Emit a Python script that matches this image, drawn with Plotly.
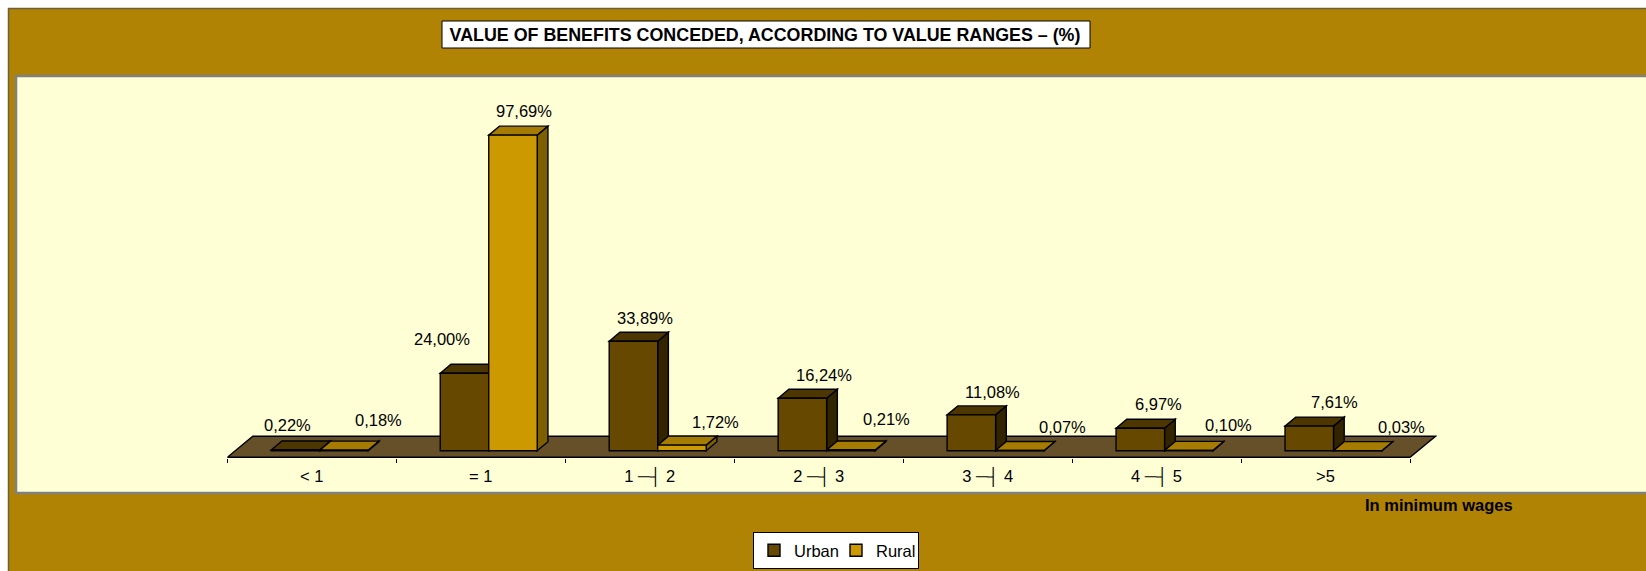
import plotly.graph_objects as go

categories = ["< 1", "= 1", "1 ─┤ 2", "2 ─┤ 3", "3 ─┤ 4", "4 ─┤ 5", ">5"]
urban = [0.22, 24.00, 33.89, 16.24, 11.08, 6.97, 7.61]
rural = [0.18, 97.69, 1.72, 0.21, 0.07, 0.10, 0.03]
urban_labels = ["0,22%", "24,00%", "33,89%", "16,24%", "11,08%", "6,97%", "7,61%"]
rural_labels = ["0,18%", "97,69%", "1,72%", "0,21%", "0,07%", "0,10%", "0,03%"]

# label nudges in px (x, up), as placed in the source chart
urban_nudge = [(-8.5, 25), (-22, 34), (12, 23), (21.5, 23), (21.5, 23), (18, 24), (25, 24)]
rural_nudge = [(34, 30), (11, 24), (33.5, 23), (36, 31), (43, 23.5), (40, 25), (44, 23.6)]

W, H = 1646, 571
FONT = "Liberation Sans, Arial, sans-serif"
FS = 16.5
GOLD, CREAM = "#B18304", "#FFFFD6"
U_FRONT, U_TOP, U_SIDE = "#664800", "#4D3600", "#332400"
R_FRONT, R_TOP, R_SIDE = "#CC9900", "#A67C00", "#7F6000"
FLOOR = "#66502A"


def fx(px):
    return px / W


def fy(py):
    return 1 - py / H


# plot area in window px
PX_PER_CAT = (1410.0 - 227.3) / len(categories)
PX_PER_UNIT = 3.23
floor_dx = 25.5 / PX_PER_CAT
floor_dy = 21.0 / PX_PER_UNIT
X0, X1 = 227.3, 1410.0 + 27.0
YB, YT = 458.3, 76.0
x_max = 6.5 + 27.0 / PX_PER_CAT
floor_y = -(457.3 - 450.7) / PX_PER_UNIT
y_min = floor_y - 1.0 / PX_PER_UNIT
y_max = y_min + (YB - YT) / PX_PER_UNIT

bar_w = 48.5 / PX_PER_CAT
bar_shift = 8.0 / PX_PER_CAT
depth_x = 10.7 / PX_PER_CAT
depth_y = 9.0 / PX_PER_UNIT


def poly(pts, fill, line="#000000", width=1.4):
    d = "M" + " L".join(f"{x},{y}" for x, y in pts) + " Z"
    return dict(type="path", path=d, xref="x", yref="y", fillcolor=fill,
                line=dict(color=line, width=width), layer="below")


def rect(x0, y0, x1, y1, fill, line=None, width=0):
    return dict(type="rect", xref="paper", yref="paper",
                x0=fx(x0), x1=fx(x1), y0=fy(y0), y1=fy(y1),
                fillcolor=fill, line=dict(color=line or fill, width=width), layer="below")


shapes = [
    rect(8.5, 8.5, 1660, 600, GOLD, "#6E5F3A", 1.5),
    rect(16, 76, 1660, 493, CREAM, "#808080", 2.5),
    rect(442, 21, 1090, 48, "#FFFFFF", "#000000", 1),
    poly([(-0.5, floor_y), (6.5, floor_y), (6.5 + floor_dx, floor_y + floor_dy),
          (-0.5 + floor_dx, floor_y + floor_dy)], FLOOR),
]
for i in range(len(categories)):
    for v, left, top, side in ((urban[i], i + bar_shift - bar_w, U_TOP, U_SIDE),
                               (rural[i], i + bar_shift, R_TOP, R_SIDE)):
        right = left + bar_w
        shapes.append(poly([(right, 0), (right + depth_x, depth_y),
                            (right + depth_x, v + depth_y), (right, v)], side))
        shapes.append(poly([(left, v), (right, v), (right + depth_x, v + depth_y),
                            (left + depth_x, v + depth_y)], top))

annotations = []
for i in range(len(categories)):
    for v, lab, nudge, cx in ((urban[i], urban_labels[i], urban_nudge[i], i + bar_shift - bar_w / 2),
                              (rural[i], rural_labels[i], rural_nudge[i], i + bar_shift + bar_w / 2)):
        annotations.append(dict(x=cx, y=v, xref="x", yref="y", text=lab, showarrow=False,
                                xanchor="center", yanchor="middle",
                                xshift=nudge[0], yshift=nudge[1],
                                font=dict(family=FONT, size=FS, color="#000000")))
annotations.append(dict(x=fx(1439), y=fy(505), xref="paper", yref="paper",
                        text="<b>In minimum wages</b>", showarrow=False,
                        xanchor="center", yanchor="middle",
                        font=dict(family=FONT, size=FS, color="#000000")))

idx = list(range(len(categories)))
fig = go.Figure()
fig.add_bar(name="Urban", x=idx, y=urban, width=bar_w, offset=bar_shift - bar_w,
            marker=dict(color=U_FRONT, line=dict(color="#000000", width=1.4)))
fig.add_bar(name="Rural", x=idx, y=rural, width=bar_w, offset=bar_shift,
            marker=dict(color=R_FRONT, line=dict(color="#000000", width=1.4)))

fig.update_layout(
    width=W, height=H, margin=dict(l=0, r=0, t=0, b=0),
    paper_bgcolor="#FFFFFF", plot_bgcolor="rgba(0,0,0,0)",
    barmode="overlay", shapes=shapes, annotations=annotations,
    font=dict(family=FONT, size=FS, color="#000000"),
    title=dict(text="<b>VALUE OF BENEFITS CONCEDED, ACCORDING TO VALUE RANGES – (%)</b>",
               x=fx(765), xref="paper", xanchor="center",
               y=fy(35), yref="paper", yanchor="middle",
               font=dict(family=FONT, size=17.85, color="#000000")),
    legend=dict(orientation="h", x=fx(753), y=fy(532), xanchor="left", yanchor="top",
                bgcolor="#FFFFFF", bordercolor="#000000", borderwidth=1,
                entrywidthmode="pixels", entrywidth=37,
                font=dict(family=FONT, size=FS, color="#000000")),
    xaxis=dict(domain=[fx(X0), fx(X1)], range=[-0.5, x_max], tickvals=idx, ticktext=categories,
               ticks="", showgrid=False, zeroline=False, showline=False,
               tickfont=dict(family=FONT, size=FS, color="#000000"),
               ticklabelstandoff=6,
               minor=dict(tickvals=[i - 0.5 for i in range(8)], ticks="outside", ticklen=4,
                          tickcolor="#000000", tickwidth=1, showgrid=False)),
    yaxis=dict(domain=[fy(YB), fy(YT)], range=[y_min, y_max], visible=False),
)
# Drop the page's default body margin so the figure fills the whole window.
fig.write_html("out.html", config={"displayModeBar": False},
               post_script="document.body.style.margin='0';")
